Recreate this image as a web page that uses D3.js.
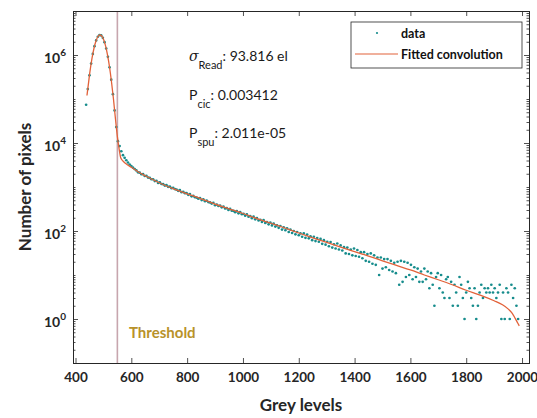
<!DOCTYPE html>
<html><head><meta charset="utf-8">
<script src="https://cdn.jsdelivr.net/npm/d3@7"></script>
<style>
body{margin:0;background:#fff}
svg{display:block}
text{font-family:Lato,"Open Sans",sans-serif}
</style>
</head><body>
<svg id="c" width="537" height="418"></svg>
<script>
// ---------- data ----------
const binStart = 438, binStep = 6;   // grey level of first histogram bin, bin width
const dataCounts = [
  74000,168000,346000,639000,1060000,1590000,2140000,2600000,2830000,2780000,   // 438-492
  2460000,1960000,1405000,907000,526000,275000,129000,54900,23000,11000,        // 498-552
  8500,6500,5300,4600,4050,3600,3250,3000,2750,2550,                            // 558-612
  2380,2150,2120,1950,1960,1780,1790,1640,1620,1500,                            // 618-672
  1500,1360,1380,1240,1280,1170,1160,1080,1100,1010,                            // 678-732
  1020,940,955,895,870,820,845,760,775,725,                                     // 738-792
  725,665,690,615,630,585,575,540,560,505,                                      // 798-852
  525,475,490,455,445,420,435,385,400,370,                                      // 858-912
  380,345,360,325,330,300,318,290,288,268,                                      // 918-972
  282,252,268,240,246,222,238,212,218,196,                                      // 978-1032
  212,184,196,174,180,160,176,152,160,142,                                      // 1038-1092
  156,134,148,126,134,118,130,108,121,104,                                      // 1098-1152
  115,95,108,90,100,84,95,80,88,74,                                             // 1158-1212
  88,70,83,68,76,62,74,59,69,57,                                                // 1218-1272
  66,51,62,49,57,45,56,42,50,40,                                                // 1278-1332
  52,38,47,36,43,31,42,30,38,28,                                                // 1338-1392
  40,27,37,26,33,24,33,21,30,20,                                                // 1398-1452
  31,18,28,17,25,10,25,14,23,15,                                                // 1458-1512
  23,13,21,12,19,11,20,6,21,7,                                                  // 1518-1572
  20,9,19,10,17,8,15,9,14,7,                                                    // 1578-1632
  12,7,14,8,12,5,11,6,2,9,                                                      // 1638-1692
  11,5,10,4,3,8,9,3,7,2,                                                        // 1698-1752
  6,4,2,9,6,3,1,4,7,5,                                                          // 1758-1812
  3,2,5,1,2,4,6,3,5,4,                                                          // 1818-1872
  5,4,6,4,5,3,4,6,1,4,                                                          // 1878-1932
  1,5,4,1,6,3,5,2,1                                                             // 1938-1986
];
const fitGrey = [441,445,452,459,466,473,480,487,494,501,508,515,522,529,536,543,550,556,562,570,580,600,625,650,700,750,800,850,900,950,1000,1050,1100,1150,1200,1250,1300,1350,1400,1450,1500,1550,1600,1650,1700,1750,1800,1850,1900,1930,1950,1965,1975,1985,1990];
const fitCounts = [120000,191000,429000,834000,1405000,2050000,2600000,2850000,2700000,2230000,1590000,980000,526000,244000,100000,36000,14000,7500,4600,3900,3400,2800,2200,1800,1250,920,700,540,410,320,250,192,150,117,90,70,55,43,34,27,21,16.5,13,10,7.8,6,4.5,3.5,2.6,2.1,1.7,1.35,1.05,0.8,0.7];
const xTicks = [400,600,800,1000,1200,1400,1600,1800,2000];
const yTickExponents = [0,2,4,6];
const thresholdGrey = 550;
const legendLabels = ["data","Fitted convolution"];
const annotations = [
  {sym:"\u03C3", sub:"Read", val:": 93.816 el", italic:true},
  {sym:"P", sub:"cic", val:": 0.003412", italic:false},
  {sym:"P", sub:"spu", val:": 2.011e-05", italic:false}
];

// ---------- layout ----------
const svg = d3.select("#c");
const L = 73, R = 529, T = 11, B = 363;
const x = d3.scaleLinear().domain([391, 2025]).range([L, R]);
const y = d3.scaleLog().domain([0.1, 1e7]).range([B, T]);
const axisCol = "#262626";
const teal = "#168c8c", red = "#e2623a";

const points = dataCounts.map((c, i) => ({g: binStart + binStep * i, c}));
const fit = fitGrey.map((g, i) => ({g, c: fitCounts[i]}));

const clipId = "clip";
svg.append("clipPath").attr("id", clipId).append("rect")
  .attr("x", L).attr("y", T).attr("width", R - L).attr("height", B - T);

// threshold line
svg.append("line")
  .attr("x1", x(thresholdGrey)).attr("x2", x(thresholdGrey))
  .attr("y1", T).attr("y2", B)
  .attr("stroke", "#c7a6ae").attr("stroke-width", 1.6);

// data points
svg.append("g").attr("clip-path", `url(#${clipId})`)
  .selectAll("circle").data(points).join("circle")
  .attr("cx", d => x(d.g)).attr("cy", d => y(d.c))
  .attr("r", 1.35).attr("fill", teal);

// fit line
svg.append("path").datum(fit)
  .attr("clip-path", `url(#${clipId})`)
  .attr("fill", "none").attr("stroke", red).attr("stroke-width", 1.3)
  .attr("d", d3.line().x(d => x(d.g)).y(d => y(d.c)).curve(d3.curveMonotoneX));

// axes
const minorVals = [];
for (let e = -1; e < 7; e++) for (let k = 1; k <= 9; k++) {
  const v = k * Math.pow(10, e);
  if (v >= 0.1 && v <= 1e7 && !(k === 1 && yTickExponents.includes(e))) minorVals.push(v);
}
function styleAxis(g) {
  g.select(".domain").attr("stroke", axisCol).attr("stroke-width", 1);
  g.selectAll(".tick line").attr("stroke", axisCol).attr("stroke-width", 0.8);
}
const gx = svg.append("g").attr("transform", `translate(0,${B})`)
  .call(d3.axisBottom(x).tickValues(xTicks).tickSize(-5).tickPadding(9).tickFormat(d3.format("d")));
styleAxis(gx);
gx.selectAll(".tick text").attr("fill", axisCol).attr("font-size", 13.5).attr("font-weight", 700)
  .attr("font-family", "Lato, sans-serif");
const gxt = svg.append("g").attr("transform", `translate(0,${T})`)
  .call(d3.axisTop(x).tickValues(xTicks).tickSize(-5).tickFormat(""));
styleAxis(gxt);
const gy = svg.append("g").attr("transform", `translate(${L},0)`)
  .call(d3.axisLeft(y).tickValues(yTickExponents.map(e => Math.pow(10, e))).tickSize(-5).tickFormat(""));
styleAxis(gy);
const gym = svg.append("g").attr("transform", `translate(${L},0)`)
  .call(d3.axisLeft(y).tickValues(minorVals).tickSize(-2.5).tickFormat(""));
styleAxis(gym);
const gyr = svg.append("g").attr("transform", `translate(${R},0)`)
  .call(d3.axisRight(y).tickValues(yTickExponents.map(e => Math.pow(10, e))).tickSize(-5).tickFormat(""));
styleAxis(gyr);
const gyrm = svg.append("g").attr("transform", `translate(${R},0)`)
  .call(d3.axisRight(y).tickValues(minorVals).tickSize(-2.5).tickFormat(""));
styleAxis(gyrm);

// y tick labels 10^n
yTickExponents.forEach(e => {
  const yy = y(Math.pow(10, e));
  const t = svg.append("text").attr("x", 66).attr("y", yy + 8)
    .attr("text-anchor", "end").attr("fill", axisCol)
    .attr("font-size", 14).attr("font-weight", 700);
  t.append("tspan").text("10");
  t.append("tspan").attr("dy", -7).attr("font-size", 10).text(String(e));
});

// axis titles
svg.append("text").attr("x", (L + R) / 2).attr("y", 411)
  .attr("text-anchor", "middle").attr("fill", axisCol)
  .attr("font-size", 17).attr("font-weight", 700).text("Grey levels");
svg.append("text").attr("transform", `translate(31,${(T + B) / 2}) rotate(-90)`)
  .attr("text-anchor", "middle").attr("fill", axisCol)
  .attr("font-size", 17).attr("font-weight", 700).text("Number of pixels");

// threshold label
svg.append("text").attr("x", 129).attr("y", 338)
  .attr("fill", "#b8922a").attr("font-size", 15).attr("font-weight", 700).text("Threshold");

// annotations
const annBase = [61, 100, 138];
annotations.forEach((a, i) => {
  const t = svg.append("text").attr("x", 189).attr("y", annBase[i])
    .attr("fill", "#1a1a1a").attr("font-size", 14);
  t.append("tspan").attr("font-style", a.italic ? "italic" : "normal")
    .attr("font-family", a.italic ? "'DejaVu Serif', serif" : null).text(a.sym);
  t.append("tspan").attr("dy", 8).attr("font-size", 11).text(a.sub);
  t.append("tspan").attr("dy", -8).text(a.val);
});

// legend
const lg = svg.append("g");
lg.append("rect").attr("x", 351).attr("y", 22).attr("width", 171).attr("height", 46)
  .attr("fill", "#fff").attr("stroke", axisCol).attr("stroke-width", 0.8);
lg.append("circle").attr("cx", 377).attr("cy", 33).attr("r", 1.1).attr("fill", teal);
lg.append("line").attr("x1", 355).attr("x2", 398).attr("y1", 54).attr("y2", 54)
  .attr("stroke", red).attr("stroke-width", 1.2);
legendLabels.forEach((s, i) => {
  lg.append("text").attr("x", 401).attr("y", 37.5 + i * 21)
    .attr("fill", "#111").attr("font-size", 12.5).attr("font-weight", 700).text(s);
});
</script>
</body></html>
